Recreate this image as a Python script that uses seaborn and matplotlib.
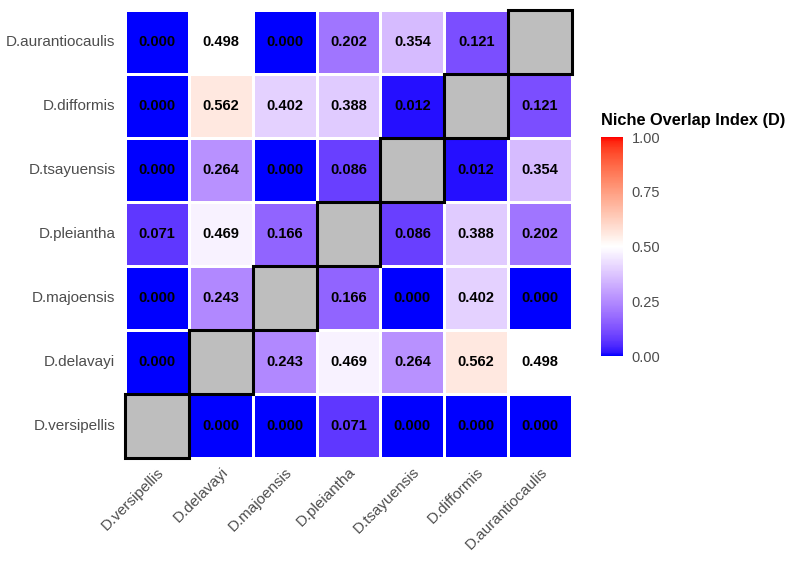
import numpy as np
import matplotlib
matplotlib.use("Agg")
import matplotlib.pyplot as plt
from matplotlib.colors import LinearSegmentedColormap
from matplotlib.patches import Rectangle
import seaborn as sns

sns.set_style("white")
plt.rcParams['font.family'] = ['Liberation Sans', 'DejaVu Sans']

# row order (top to bottom) and column order (left to right)
row_species = ["D.aurantiocaulis", "D.difformis", "D.tsayuensis", "D.pleiantha",
               "D.majoensis", "D.delavayi", "D.versipellis"]
col_species = ["D.versipellis", "D.delavayi", "D.majoensis", "D.pleiantha",
               "D.tsayuensis", "D.difformis", "D.aurantiocaulis"]

nan = np.nan
overlap = [
    [0.000, 0.498, 0.000, 0.202, 0.354, 0.121, nan],
    [0.000, 0.562, 0.402, 0.388, 0.012, nan, 0.121],
    [0.000, 0.264, 0.000, 0.086, nan, 0.012, 0.354],
    [0.071, 0.469, 0.166, nan, 0.086, 0.388, 0.202],
    [0.000, 0.243, nan, 0.166, 0.000, 0.402, 0.000],
    [0.000, nan, 0.243, 0.469, 0.264, 0.562, 0.498],
    [nan, 0.000, 0.000, 0.071, 0.000, 0.000, 0.000],
]
mat = np.array(overlap, dtype=float)


# blue-white-red gradient interpolated in Lab, like ggplot's gradient2
def lab_to_rgb(lab):
    L, a, b = lab[:, 0], lab[:, 1], lab[:, 2]
    fy = (L + 16) / 116
    fx = fy + a / 500
    fz = fy - b / 200

    def finv(t):
        return np.where(t > 6 / 29, t ** 3, 3 * (6 / 29) ** 2 * (t - 4 / 29))

    X = 0.95047 * finv(fx)
    Y = finv(fy)
    Z = 1.08883 * finv(fz)
    r = 3.2406 * X - 1.5372 * Y - 0.4986 * Z
    g = -0.9689 * X + 1.8758 * Y + 0.0415 * Z
    bb = 0.0557 * X - 0.2040 * Y + 1.0570 * Z
    rgb = np.stack([r, g, bb], axis=1)
    rgb = np.clip(rgb, 0, 1)
    rgb = np.where(rgb > 0.0031308, 1.055 * rgb ** (1 / 2.4) - 0.055, 12.92 * rgb)
    return np.clip(rgb, 0, 1)


lab_blue = np.array([32.30, 79.19, -107.86])
lab_white = np.array([100.0, 0.0, 0.0])
lab_red = np.array([53.24, 80.09, 67.20])
t = np.linspace(0, 1, 128)[:, None]
labs = np.vstack([lab_blue + (lab_white - lab_blue) * t,
                  lab_white + (lab_red - lab_white) * t])
cmap = LinearSegmentedColormap.from_list("bwr_lab", lab_to_rgb(labs))

fig = plt.figure(figsize=(7.94, 5.61), dpi=100)
ax = fig.add_axes([0.1574, 0.1836, 0.563, 0.7986])
cax = fig.add_axes([0.757, 0.3654, 0.0277, 0.39])

sns.heatmap(mat, ax=ax, cbar_ax=cax, cmap=cmap, vmin=0, vmax=1,
            annot=True, fmt=".3f",
            annot_kws={"fontsize": 10.5, "fontweight": "bold", "color": "black"},
            linewidths=1.8, linecolor="white", square=False,
            xticklabels=col_species, yticklabels=row_species)

# diagonal cells: grey with black border
for i, sp in enumerate(row_species):
    j = col_species.index(sp)
    ax.add_patch(Rectangle((j, i), 1, 1, facecolor="#bebebe",
                           edgecolor="black", linewidth=2.2, zorder=3,
                           clip_on=False))

ax.tick_params(axis="both", length=0, labelsize=11, labelcolor="#4d4d4d")
ax.tick_params(axis="y", pad=7)
ax.tick_params(axis="x", pad=5)
plt.setp(ax.get_xticklabels(), rotation=45, ha="right", rotation_mode="anchor")
plt.setp(ax.get_yticklabels(), rotation=0)

cbar = ax.collections[0].colorbar
cbar.outline.set_visible(False)
cbar.set_ticks([0, 0.25, 0.5, 0.75, 1.0])
cbar.set_ticklabels(["0.00", "0.25", "0.50", "0.75", "1.00"])
cax.tick_params(direction="in", color="white", length=4, width=0.8,
                labelsize=10.5, labelcolor="#4d4d4d", pad=6)
fig.text(0.757, 1 - 120 / 561, "Niche Overlap Index (D)", fontsize=11.8,
         fontweight="bold", color="black", va="center", ha="left")

fig.savefig("out.png", dpi=100)
